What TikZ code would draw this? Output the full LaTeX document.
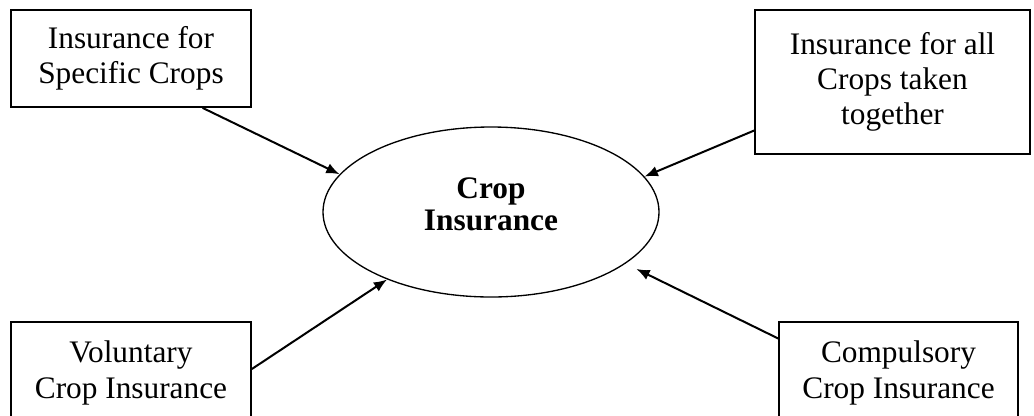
\documentclass[tikz,border=0pt]{standalone}
\usepackage{fontspec}
\setmainfont{Liberation Serif}
\usetikzlibrary{shapes.geometric,arrows.meta,calc}
\begin{document}
\begin{tikzpicture}[x=0.75pt,y=-0.75pt,
  box/.style={draw,line width=1.3pt,rectangle,inner sep=0pt,align=center,
    font=\fontsize{23.5}{26.5}\selectfont},
  core/.style={draw,line width=1pt,ellipse,inner sep=0pt,
    minimum width=252pt,minimum height=127.5pt},
  corelabel/.style={align=center,inner sep=0pt,
    font=\fontsize{23.5}{24}\selectfont\bfseries},
  link/.style={line width=1.5pt,-{Latex[length=10pt,width=8pt]}}]
\useasboundingbox (0,0) rectangle (1034,415);
\clip (0,0) rectangle (1034,415);
\fill[white] (0,0) rectangle (1034,415);

% central ellipse and its title
\node[core] (ell) at (491,212) {};
\node[corelabel] (title) at ($(ell.center)+(0,-8)$) {Crop\\Insurance};

% the four kinds of cover
\node[box,minimum width=180pt,minimum height=72.75pt] (tl) at (131,58.5)
  {Insurance for\\Specific Crops};
\node[box,minimum width=206.25pt,minimum height=108pt] (tr) at (892.5,82)
  {Insurance for all\\Crops taken\\together};
\node[box,minimum width=180pt,minimum height=76.5pt] (bl) at (131,373)
  {Voluntary\\Crop Insurance};
\node[box,minimum width=179.25pt,minimum height=76.5pt] (br) at (898.5,373)
  {Compulsory\\Crop Insurance};

% arrows into the ellipse
\draw[link] ($(tl.south west)!0.796!(tl.south east)$) -- (ell.166);
\draw[link] ($(tr.north west)!0.833!(tr.south west)$) -- (ell.13);
\draw[link] ($(bl.east)+(0,-4)$) -- (ell.213);
\draw[link,shorten >=9pt] ($(br.north west)!0.167!(br.south west)$) -- (ell.339);
\end{tikzpicture}
\end{document}
